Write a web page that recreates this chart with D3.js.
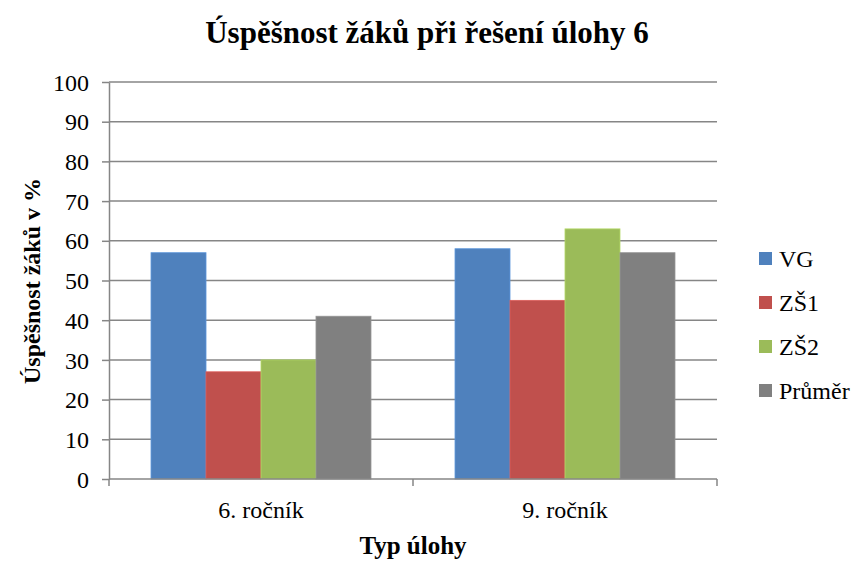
<!DOCTYPE html>
<html><head><meta charset="utf-8">
<script src="https://cdn.jsdelivr.net/npm/d3@7"></script>
<style>body{margin:0;background:#fff}svg{display:block}</style>
</head><body>
<script>
const categories = ["6. ročník", "9. ročník"];
const seriesNames = ["VG", "ZŠ1", "ZŠ2", "Průměr"];
const VG = [57, 58];
const ZS1 = [27, 45];
const ZS2 = [30, 63];
const Prumer = [41, 57];
const yTicks = [0, 10, 20, 30, 40, 50, 60, 70, 80, 90, 100];
const colors = ["#4F81BD", "#C0504D", "#9BBB59", "#808080"];
const seriesValues = [VG, ZS1, ZS2, Prumer];

(function () {
const FF = "Liberation Serif";
const FS = 24;
const W = 857, H = 563;
const pLeft = 109, pRight = 717, pTop = 82, pBottom = 479;
const svg = d3.select("body").append("svg").attr("width", W).attr("height", H)
  .attr("font-family", FF);

const x = d3.scaleBand().domain(categories).range([pLeft, pRight]).paddingInner(0).paddingOuter(0);
const xs = d3.scaleBand().domain(seriesNames).range([0, x.bandwidth()]).paddingInner(0).paddingOuter(0.764);
const y = d3.scaleLinear().domain([0, 100]).range([pBottom, pTop]);

// gridlines
svg.append("g").selectAll("line").data(yTicks.filter(d => d > 0)).join("line")
  .attr("x1", pLeft).attr("x2", pRight).attr("y1", d => y(d)).attr("y2", d => y(d))
  .attr("stroke", "#868686").attr("stroke-width", 1.5);

// bars
const g = svg.append("g");
seriesNames.forEach((s, i) => {
  g.append("g").selectAll("rect").data(categories).join("rect")
    .attr("x", c => x(c) + xs(s))
    .attr("width", xs.bandwidth())
    .attr("y", (c, j) => y(seriesValues[i][j]))
    .attr("height", (c, j) => y(0) - y(seriesValues[i][j]))
    .attr("fill", colors[i])
    .attr("stroke", d3.color(colors[i]).brighter(0.4)).attr("stroke-width", 0.8);
});

// y axis
const yAxis = d3.axisLeft(y).tickValues(yTicks).tickSize(7).tickSizeOuter(0).tickPadding(13);
const ya = svg.append("g").attr("transform", `translate(${pLeft},0)`).call(yAxis)
  .attr("font-family", FF).attr("font-size", FS);
ya.select(".domain").attr("stroke", "#868686").attr("stroke-width", 1.5);
ya.selectAll(".tick line").attr("stroke", "#868686").attr("stroke-width", 1.5);
ya.selectAll(".tick text").attr("font-family", FF).attr("font-size", FS).attr("fill", "#000").attr("dy", "0.34em");

// x axis
const xAxis = d3.axisBottom(x).tickSize(0).tickPadding(0);
const xa = svg.append("g").attr("transform", `translate(0,${pBottom})`).call(xAxis)
  .attr("font-family", FF).attr("font-size", FS);
xa.select(".domain").attr("stroke", "#868686").attr("stroke-width", 1.5).attr("d", `M${pLeft},0H${pRight}`);
xa.selectAll(".tick text").attr("font-family", FF).attr("font-size", FS).attr("fill", "#000")
  .attr("y", 39).attr("dy", "0");
// category boundary ticks
const bounds = [pLeft, ...categories.map(c => x(c) + x.bandwidth())];
svg.append("g").selectAll("line").data(bounds).join("line")
  .attr("x1", d => d).attr("x2", d => d).attr("y1", pBottom).attr("y2", pBottom + 7)
  .attr("stroke", "#868686").attr("stroke-width", 1.5);

// titles
svg.append("text").attr("x", 427).attr("y", 43).attr("text-anchor", "middle")
  .attr("font-family", FF).attr("font-size", 31).attr("font-weight", "bold").text("Úspěšnost žáků při řešení úlohy 6");
svg.append("text").attr("transform", "translate(40,281) rotate(-90)").attr("text-anchor", "middle")
  .attr("font-family", FF).attr("font-size", 24).attr("font-weight", "bold").text("Úspěšnost žáků v %");
svg.append("text").attr("x", 413).attr("y", 554).attr("text-anchor", "middle")
  .attr("font-family", FF).attr("font-size", 25).attr("font-weight", "bold").text("Typ úlohy");

// legend
const leg = svg.append("g").selectAll("g").data(seriesNames).join("g")
  .attr("transform", (d, i) => `translate(759,${259 + i * 44})`);
leg.append("rect").attr("x", 0).attr("y", -7).attr("width", 13).attr("height", 13).attr("fill", (d, i) => colors[i]);
leg.append("text").attr("x", 20).attr("y", 0).attr("dy", "0.35em")
  .attr("font-family", FF).attr("font-size", FS).attr("fill", "#000").text(d => d);
})();
</script>
</body></html>
